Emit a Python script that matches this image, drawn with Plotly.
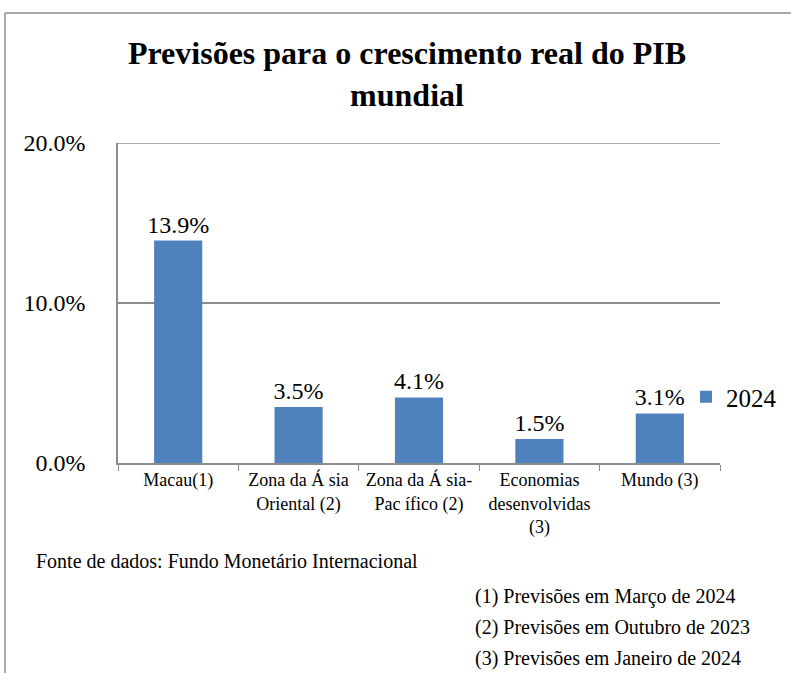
import plotly.graph_objects as go

# --- data ---
categories = ["Macau(1)", "Zona da Á sia<br>Oriental (2)", "Zona da Á sia-<br>Pac ífico (2)",
              "Economias<br>desenvolvidas<br>(3)", "Mundo (3)"]
growth_2024 = [13.9, 3.5, 4.1, 1.5, 3.1]
value_labels = ["13.9%", "3.5%", "4.1%", "1.5%", "3.1%"]
series_name = "2024"
y_ticks = [0, 10, 20]
y_ticklabels = ["0.0%", "10.0%", "20.0%"]
notes = ["(1) Previsões em Março de 2024",
         "(2) Previsões em Outubro de 2023",
         "(3) Previsões em Janeiro de 2024"]

FONT = "Liberation Serif"
GRID = "#8c8c8c"

# plot area in pixels
L, R, T, B = 118, 720, 143, 463
W, H = R - L, B - T
def px(x): return (x - L) / W
def py(y): return (B - y) / H

fig = go.Figure()
fig.add_trace(go.Bar(
    x=categories, y=growth_2024, name=series_name,
    marker=dict(color="#4F81BD", line=dict(width=0)),
    text=value_labels, textposition="outside", cliponaxis=False,
    constraintext="none",
    textfont=dict(family=FONT, size=24, color="black"),
))

fig.update_layout(
    width=791, height=673,
    margin=dict(l=L, r=791 - R, t=T, b=673 - B, autoexpand=False),
    paper_bgcolor="white", plot_bgcolor="white",
    font=dict(family=FONT, color="black"),
    title=dict(text="<b>Previsões para o crescimento real do PIB<br>mundial</b>",
               x=407 / 791, xanchor="center", y=1 - 64 / 673, yanchor="top",
               font=dict(family=FONT, size=32, color="black")),
    bargap=0.6,
    showlegend=True,
    legend=dict(x=px(686), y=py(397), xanchor="left", yanchor="middle",
                font=dict(family=FONT, size=25), bgcolor="rgba(0,0,0,0)",
                itemwidth=30),
    xaxis=dict(showline=True, linecolor=GRID, linewidth=1.5,
               ticks="outside", tickson="boundaries", ticklen=6, tickcolor=GRID,
               tickangle=0, tickfont=dict(family=FONT, size=18), showgrid=False),
    yaxis=dict(range=[0, 20], tickvals=y_ticks, ticktext=y_ticklabels,
               showgrid=True, gridcolor=GRID, gridwidth=1.5,
               showline=True, linecolor=GRID, linewidth=1.5,
               ticks="", ticklabelstandoff=26, zeroline=False,
               tickfont=dict(family=FONT, size=24)),
)

# top gridline (plotly drops the one on the plot edge)
fig.add_shape(type="line", xref="paper", yref="y", x0=0, x1=1,
              y0=y_ticks[-1], y1=y_ticks[-1], line=dict(color=GRID, width=1.5))

# outer frame of the chart
fig.add_shape(type="line", xref="paper", yref="paper", x0=px(5), x1=px(800),
              y0=py(13), y1=py(13), line=dict(color=GRID, width=1.5))
fig.add_shape(type="line", xref="paper", yref="paper", x0=px(5), x1=px(5),
              y0=py(13), y1=py(690), line=dict(color=GRID, width=1.5))

fig.add_annotation(text="Fonte de dados: Fundo Monetário Internacional",
                   xref="paper", yref="paper", x=px(34), y=py(561),
                   xanchor="left", yanchor="middle", showarrow=False,
                   font=dict(family=FONT, size=20))
for i, note in enumerate(notes):
    fig.add_annotation(text=note, xref="paper", yref="paper",
                       x=px(473), y=py(596 + 31 * i),
                       xanchor="left", yanchor="middle", showarrow=False,
                       font=dict(family=FONT, size=20))

# drop the default page margin so the chart sits at the window origin
fig.write_html("out.html", config={"displayModeBar": False},
               post_script="document.body.style.margin='0';")
